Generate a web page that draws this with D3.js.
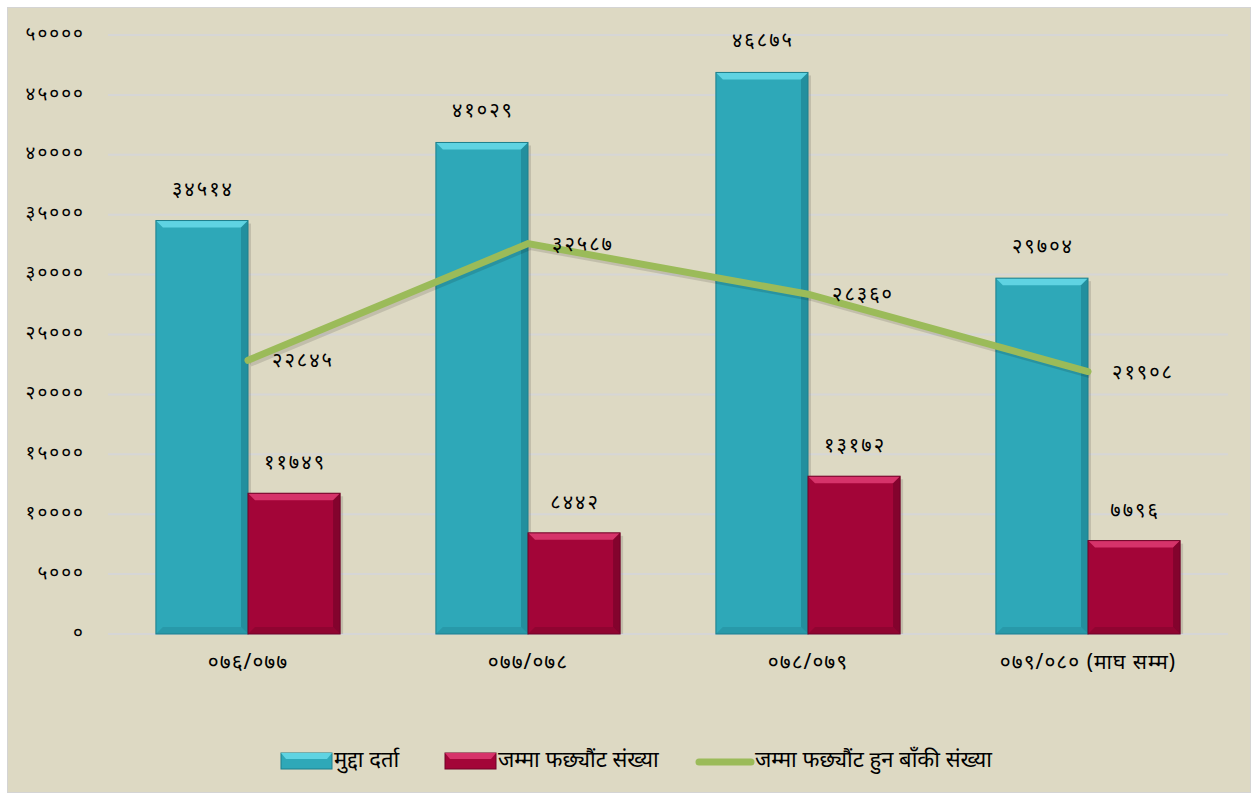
<!DOCTYPE html>
<html>
<head>
<meta charset="utf-8">
<script src="https://cdn.jsdelivr.net/npm/d3@7"></script>
<style>
  body { margin: 0; background: #fff; }
  text { font-family: "Noto Sans", "Noto Sans Devanagari", sans-serif; }
</style>
</head>
<body>
<div id="chart"></div>
<script>
const categories = ['०७६/०७७', '०७७/०७८', '०७८/०७९', '०७९/०८० (माघ सम्म)'];
const registered = [34514, 41029, 46875, 29704];
const settled = [11749, 8442, 13172, 7796];
const pending = [22845, 32587, 28360, 21908];
const seriesNames = ['मुद्दा दर्ता', 'जम्मा फछ्यौंट संख्या', 'जम्मा फछ्यौंट हुन बाँकी संख्या'];
const yTicks = [0, 5000, 10000, 15000, 20000, 25000, 30000, 35000, 40000, 45000, 50000];

const width = 1258, height = 799;
const plotLeft = 108, plotRight = 1228, plotTop = 35, plotBottom = 634;

const nepDigits = '०१२३४५६७८९';
function nep(n) { return String(n).replace(/[0-9]/g, d => nepDigits[+d]); }

const svg = d3.select('#chart').append('svg')
    .attr('width', width)
    .attr('height', height);

svg.append('rect')
    .attr('x', 7.5).attr('y', 7.5)
    .attr('width', 1243).attr('height', 785)
    .attr('fill', '#ddd9c3')
    .attr('stroke', '#d4d4d4');

let x = d3.scaleBand().domain(categories).range([plotLeft, plotRight]);
let xs = d3.scaleBand().domain([0, 1]).range([0, x.bandwidth()]).paddingOuter(0.52).paddingInner(0);
let y = d3.scaleLinear().domain([0, 50000]).range([plotBottom, plotTop]);

// grid
svg.append('g')
    .selectAll('line')
    .data(yTicks)
    .join('line')
    .attr('x1', plotLeft).attr('x2', plotRight)
    .attr('y1', d => y(d)).attr('y2', d => y(d))
    .attr('stroke', '#d6d6d6')
    .attr('stroke-width', 2);

// y axis labels
svg.append('g')
    .selectAll('text')
    .data(yTicks)
    .join('text')
    .attr('x', 85)
    .attr('y', d => y(d) - 2)
    .attr('dy', '0.35em')
    .attr('text-anchor', 'end')
    .attr('font-size', 19)
    .attr('letter-spacing', '2px')
    .attr('fill', '#000')
    .text(d => nep(d));

function bevelBar(g, bx, by, bw, bh, base, light, dark)
{
    let b = 7;
    g.append('rect')
        .attr('x', bx + 3).attr('y', by + 3)
        .attr('width', bw).attr('height', bh - 3)
        .attr('fill', '#000').attr('opacity', 0.12);
    g.append('rect')
        .attr('x', bx).attr('y', by)
        .attr('width', bw).attr('height', bh)
        .attr('fill', base);
    // top bevel
    g.append('polygon')
        .attr('points', [[bx, by], [bx + bw, by], [bx + bw - b, by + b], [bx + b, by + b]].join(' '))
        .attr('fill', light);
    // right
    g.append('polygon')
        .attr('points', [[bx + bw, by], [bx + bw - b, by + b], [bx + bw - b, by + bh - b], [bx + bw, by + bh]].join(' '))
        .attr('fill', dark).attr('opacity', 0.6);
    // bottom
    g.append('polygon')
        .attr('points', [[bx, by + bh], [bx + b, by + bh - b], [bx + bw - b, by + bh - b], [bx + bw, by + bh]].join(' '))
        .attr('fill', dark).attr('opacity', 0.35);
    g.append('rect')
        .attr('x', bx).attr('y', by)
        .attr('width', bw).attr('height', bh)
        .attr('fill', 'none')
        .attr('stroke', dark).attr('stroke-width', 1);
}

const styles = [
    { base: '#2ea8b8', light: '#5fd3e2', dark: '#1d7f8c' },
    { base: '#a30538', light: '#d6336a', dark: '#6e0226' }
];

let bars = svg.append('g');
categories.forEach(function (c, i)
{
    [registered[i], settled[i]].forEach(function (v, j)
    {
        let bx = x(c) + xs(j);
        bevelBar(bars, bx, y(v), xs.bandwidth(), y(0) - y(v), styles[j].base, styles[j].light, styles[j].dark);
    });
});

// bar labels
let labels = svg.append('g')
    .attr('font-size', 20)
    .attr('letter-spacing', '2px')
    .attr('fill', '#000')
    .attr('text-anchor', 'middle');

categories.forEach(function (c, i)
{
    labels.append('text')
        .attr('x', x(c) + xs(0) + xs.bandwidth() / 2 + 1)
        .attr('y', y(registered[i]) - 25)
        .text(nep(registered[i]));
    labels.append('text')
        .attr('x', x(c) + xs(1) + xs.bandwidth() / 2 + 1)
        .attr('y', y(settled[i]) - 24)
        .text(nep(settled[i]));
});

// line
let line = d3.line()
    .x((d, i) => x(categories[i]) + x.bandwidth() / 2)
    .y(d => y(d));

svg.append('path')
    .datum(pending)
    .attr('d', line)
    .attr('fill', 'none')
    .attr('stroke', '#000')
    .attr('stroke-opacity', 0.12)
    .attr('stroke-width', 7)
    .attr('transform', 'translate(2,3)');

svg.append('path')
    .datum(pending)
    .attr('d', line)
    .attr('fill', 'none')
    .attr('stroke', '#9bbb59')
    .attr('stroke-width', 7)
    .attr('stroke-linecap', 'round');

svg.append('g')
    .selectAll('text')
    .data(pending)
    .join('text')
    .attr('x', (d, i) => x(categories[i]) + x.bandwidth() / 2 + 24)
    .attr('y', d => y(d) + 7)
    .attr('font-size', 20)
    .attr('letter-spacing', '2px')
    .attr('fill', '#000')
    .text(d => nep(d));

// category labels
svg.append('g')
    .selectAll('text')
    .data(categories)
    .join('text')
    .attr('x', d => x(d) + x.bandwidth() / 2)
    .attr('y', 669)
    .attr('text-anchor', 'middle')
    .attr('font-size', 21)
    .attr('letter-spacing', '1px')
    .attr('fill', '#000')
    .text(d => d);

// legend
let legend = svg.append('g').attr('font-size', 22).attr('fill', '#000');
const legendX = [281, 445, 695];

[0, 1].forEach(function (j)
{
    let lx = legendX[j];
    legend.append('rect')
        .attr('x', lx).attr('y', 753)
        .attr('width', 51).attr('height', 16)
        .attr('fill', styles[j].base).attr('stroke', styles[j].dark);
    legend.append('polygon')
        .attr('points', [[lx, 753], [lx + 51, 753], [lx + 46, 759], [lx + 5, 759]].join(' '))
        .attr('fill', styles[j].light);
    legend.append('text')
        .attr('x', lx + 53).attr('y', 767)
        .text(seriesNames[j]);
});

legend.append('line')
    .attr('x1', legendX[2] + 4).attr('x2', legendX[2] + 56)
    .attr('y1', 762).attr('y2', 762)
    .attr('stroke', '#9bbb59').attr('stroke-width', 7)
    .attr('stroke-linecap', 'round');
legend.append('text')
    .attr('x', legendX[2] + 60).attr('y', 767)
    .text(seriesNames[2]);
</script>
</body>
</html>
